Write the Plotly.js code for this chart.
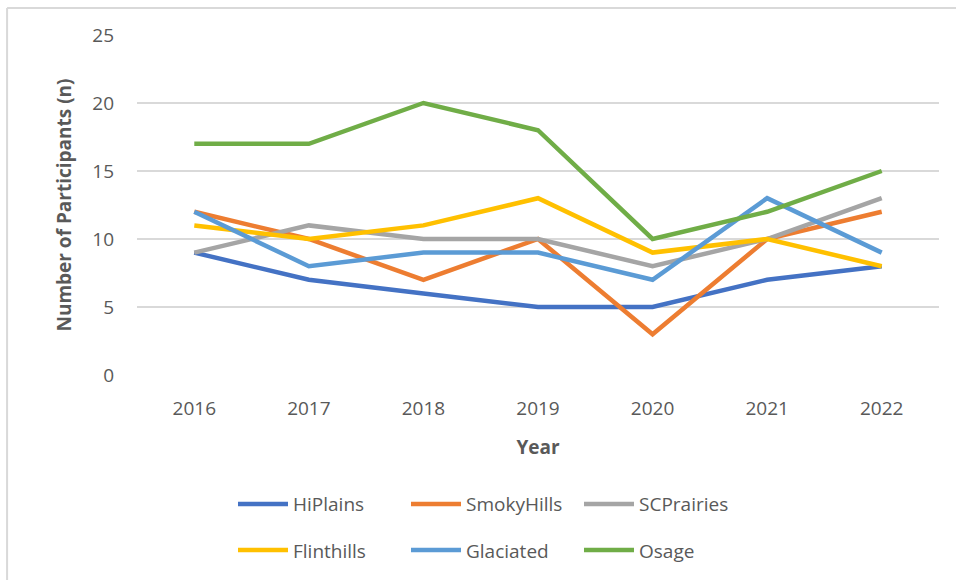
<!DOCTYPE html>
<html>
<head>
<meta charset="utf-8">
<script src="https://cdn.plot.ly/plotly-3.0.1.min.js"></script>
<style>html,body{margin:0;padding:0;background:#fff;}#chart{width:956px;height:580px;}</style>
</head>
<body>
<div id="chart"></div>
<script>
var years = ['2016','2017','2018','2019','2020','2021','2022'];
var hiPlains   = [9, 7, 6, 5, 5, 7, 8];
var smokyHills = [12, 10, 7, 10, 3, 10, 12];
var scPrairies = [9, 11, 10, 10, 8, 10, 13];
var flinthills = [11, 10, 11, 13, 9, 10, 8];
var glaciated  = [12, 8, 9, 9, 7, 13, 9];
var osage      = [17, 17, 20, 18, 10, 12, 15];
var seriesNames = ['HiPlains','SmokyHills','SCPrairies','Flinthills','Glaciated','Osage'];
var seriesData = [hiPlains, smokyHills, scPrairies, flinthills, glaciated, osage];
var colors = ['#4472C4','#ED7D31','#A5A5A5','#FFC000','#5B9BD5','#70AD47'];

var traces = seriesNames.map(function(n, i){
  return {
    x: years, y: seriesData[i], name: n, type: 'scatter', mode: 'lines',
    line: {color: colors[i], width: 4.5},
    legend: i < 3 ? 'legend' : 'legend2'
  };
});

var font = 'Segoe UI, "Open Sans", "Noto Sans", sans-serif';
var grey = '#595959';
var legendCommon = {
  orientation: 'h', xanchor: 'left', yanchor: 'middle',
  entrywidth: 108, entrywidthmode: 'pixels', itemwidth: 50,
  font: {family: font, size: 19, color: grey}, bgcolor: 'rgba(0,0,0,0)'
};
var layout = {
  width: 956, height: 580,
  margin: {l: 137, r: 17, t: 35, b: 204},
  paper_bgcolor: '#ffffff', plot_bgcolor: '#ffffff',
  showlegend: true,
  font: {family: font, color: grey},
  xaxis: {
    type: 'category', range: [-0.5, 6.5], showgrid: false, zeroline: false, showline: false, ticks: '',
    tickfont: {family: font, size: 19, color: grey},
    ticklabelstandoff: 20,
    title: {text: 'Year', font: {family: font, size: 19, color: grey, weight: 'bold'}, standoff: 20}
  },
  yaxis: {
    range: [0, 25], dtick: 5, tick0: 0, showgrid: true, gridcolor: '#d9d9d9', gridwidth: 2,
    zeroline: false, showline: false, ticks: '',
    tickfont: {family: font, size: 19, color: grey},
    ticklabelstandoff: 22,
    title: {text: 'Number of Participants (n)', font: {family: font, size: 19, color: grey, weight: 'bold'}, standoff: 15}
  },
  legend: Object.assign({x: 0.1197, y: -0.376}, legendCommon),
  legend2: Object.assign({x: 0.1197, y: -0.511}, legendCommon),
  shapes: [
    {type: 'line', xref: 'paper', yref: 'paper', x0: -0.162, x1: 1.03, y0: 1.0792, y1: 1.0792, line: {color: '#d9d9d9', width: 2}},
    {type: 'line', xref: 'paper', yref: 'paper', x0: -0.162, x1: -0.162, y0: 1.0792, y1: -0.62, line: {color: '#d9d9d9', width: 2}}
  ]
};
Plotly.newPlot('chart', traces, layout, {displayModeBar: false, staticPlot: true});
</script>
</body>
</html>
